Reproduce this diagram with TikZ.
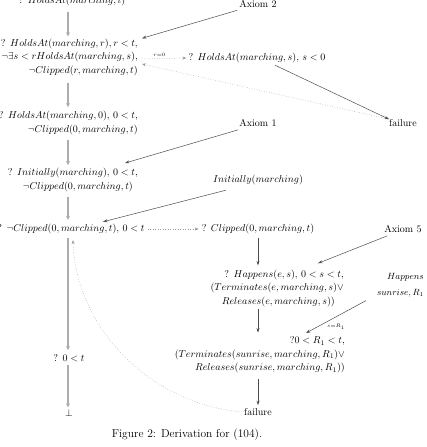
\documentclass[tikz,border=0pt]{standalone}
\usetikzlibrary{arrows.meta,calc}
\begin{document}
\begin{tikzpicture}[x=1pt,y=-1pt,
  lbl/.style={inner sep=0pt, font=\fontsize{10}{13.5}\selectfont, align=right},
  gry/.style={draw=black!32, line width=1.4pt, -{Stealth[length=4pt,width=4pt]}},
  thn/.style={draw=black!70, line width=0.5pt, -{Stealth[length=4.5pt,width=3pt]}},
  dts/.style={draw=black!40, line width=0.5pt, dotted, -{Stealth[length=4pt,width=3pt]}},
  small/.style={inner sep=0pt, font=\tiny}]
\useasboundingbox (0,0) rectangle (427,447);
\coordinate (col) at (68,0);
\node[lbl, anchor=base] (n1) at (72,4) {? $HoldsAt(marching,t)$};
\node[lbl, anchor=base] (ax2) at (258,7) {Axiom 2};
\node[lbl, anchor=east] (n2) at (138,57) {? $HoldsAt(marching,r), r<t,$\\ $\neg\exists s<r HoldsAt(marching,s),$\\ $\neg Clipped(r,marching,t)$};
\node[lbl] (n3) at (257,58) {? $HoldsAt(marching,s)$, $s<0$};
\node[lbl] (f1) at (403,123) {failure};
\node[lbl] (ax1) at (258,123) {Axiom 1};
\node[lbl, anchor=east] (n4) at (138,123) {? $HoldsAt(marching,0)$, $0<t$,\\ $\neg Clipped(0,marching,t)$};
\node[lbl, anchor=east] (n5) at (138,180) {? $Initially(marching)$, $0<t$,\\ $\neg Clipped(0,marching,t)$\hspace*{5pt}};
\node[lbl] (init) at (258,180) {$Initially(marching)$};
\node[lbl] (n6) at (71,229) {? $\neg Clipped(0,marching,t)$, $0<t$};
\node[lbl] (n7) at (258,229) {? $Clipped(0,marching,t)$};
\node[lbl] (ax5) at (403,229) {Axiom 5};
\node[lbl, anchor=east] (n8) at (344,288) {? $Happens(e,s)$, $0<s<t$,\\ $(Terminates(e,marching,s)\vee$\\ $Releases(e,marching,s))$\hspace*{9pt}};
\node[lbl, anchor=east, font=\fontsize{9}{16}\selectfont] (hap) at (424,285) {$Happens$\\ $sunrise, R_1$};
\node[lbl, anchor=east] (n9) at (345,355) {?$0<R_1<t$,\\ $(Terminates(sunrise,marching,R_1)\vee$\\ $Releases(sunrise,marching,R_1))$};
\node[lbl] (n10) at (69,358) {? $0<t$};
\node[lbl] (bot) at (69,413) {$\bot$};
\node[lbl] (f2) at (258,412) {failure};
\node[inner sep=0pt, font=\fontsize{11.5}{14}\selectfont] (cap) at (187,435) {Figure 2: Derivation for (104).};
% gray main column
\draw[gry, shorten <=5pt, shorten >=2pt] (n1.south -| col) -- (n2.north -| col);
\draw[gry, shorten <=7pt, shorten >=4pt] (n2.south -| col) -- (n4.north -| col);
\draw[gry, shorten <=5pt, shorten >=3pt] (n4.south -| col) -- (n5.north -| col);
\draw[gry, shorten <=5pt, shorten >=4pt] (n5.south -| col) -- (n6.north -| col);
\draw[gry, shorten <=4pt, shorten >=4pt] (n6.south -| col) -- (n10.north -| col);
\draw[gry, shorten <=3pt, shorten >=2pt] (n10.south -| col) -- (bot.north -| col);
% thin connectors
\draw[thn] ($(ax2.south west)+(-2,3)$) -- ($(n2.north east)+(4,0)$);
\draw[dts, shorten <=2pt, shorten >=2pt] ($(n2.east)+(2,2)$) -- (n3.west) node[small, pos=0.4, above=2pt] {$r{=}0$};
\draw[dts] (f1.north west) -- ($(n2.east)+(4,7)$);
\draw[thn] ($(n3.south)+(18,2)$) -- (f1.north west);
\draw[thn] ($(ax1.south west)+(-1,3)$) -- ($(n5.north east)+(-13,-5)$);
\draw[thn] ($(init.south west)+(13,5)$) -- ($(n6.north)+(32,-2)$);
\draw[dts, shorten <=3pt, shorten >=3pt] (n6.east) -- (n7.west);
\draw[thn, shorten <=4pt, shorten >=4pt] (n7.south) -- (n7.south |- n8.north);
\draw[thn] ($(ax5.south west)+(3,3)$) -- ($(n8.north east)+(-26,-6)$);
\draw[thn, shorten <=2pt, shorten >=4pt] (n7.south |- n8.south) -- (n7.south |- n9.north);
\draw[thn] ($(hap.south west)+(-11,3.5)$) -- ($(n9.north east)+(-39,-3.5)$) node[small, pos=0.5, yshift=-10pt] {$s{=}R_1$};
\draw[thn, shorten <=6pt, shorten >=3pt] (n7.south |- n9.south) -- (f2.north);
\draw[dts] (f2.west) .. controls +(-90,-6) and +(3,90) .. ($(n6.south)+(2,6)$);
\end{tikzpicture}
\end{document}
